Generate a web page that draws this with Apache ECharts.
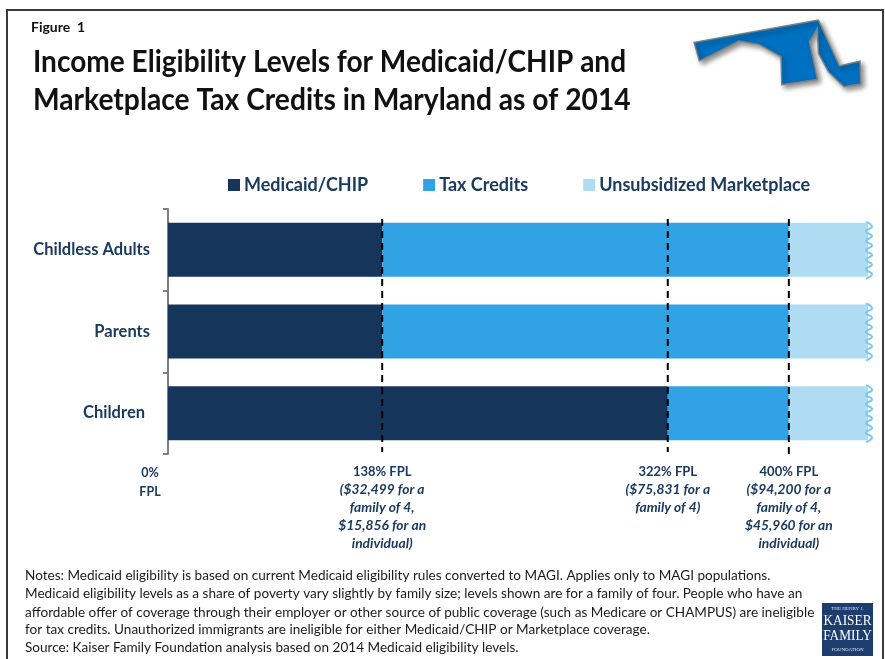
<!DOCTYPE html>
<html>
<head>
<meta charset="utf-8">
<title>Income Eligibility Levels in Maryland</title>
<style>
html, body { margin: 0; padding: 0; background: #fff; }
#chart { width: 885px; height: 659px; }
</style>
<script src="https://cdn.jsdelivr.net/npm/echarts@6/dist/echarts.min.js"></script>
</head>
<body>
<div id="chart"></div>
<script>
var groups = ['Childless Adults', 'Parents', 'Children'];
var medicaid = [138, 138, 322];
var taxCredits = [262, 262, 78];
var unsubsidized = [51, 51, 51];
var fplCuts = [138, 322, 400];
var tickValues = [0, 138, 322, 400];
var tickHeads = {0: '0%', 138: '138% FPL', 322: '322% FPL', 400: '400% FPL'};
var tickNotes = {
    0: ['FPL'],
    138: ['($32,499 for a', 'family of 4,', '$15,856 for an', 'individual)'],
    322: ['($75,831 for a', 'family of 4)'],
    400: ['($94,200 for a', 'family of 4,', '$45,960 for an', 'individual)']
};
var notes = [
    'Notes: Medicaid eligibility is based on current Medicaid eligibility rules converted to MAGI. Applies only to MAGI populations.',
    'Medicaid eligibility levels as a share of poverty vary slightly by family size; levels shown are for a family of four. People who have an',
    'affordable offer of coverage through their employer or other source of public coverage (such as Medicare or CHAMPUS) are ineligible',
    'for tax credits. Unauthorized immigrants are ineligible for either Medicaid/CHIP or Marketplace coverage.',
    'Source: Kaiser Family Foundation analysis based on 2014 Medicaid eligibility levels.'
];

var navy = '#1a3a60';
var font = 'Lato';

// state outline
var mapShape = [[42,97],[415,30],[478,168],[540,153],[542,222],[492,230],[445,185],[415,130],[412,55],[388,95],[412,208],[305,224],[303,140],[237,103],[177,93],[58,153]];

function textEl(x, y, text, fontStr, fill, scaleX, align) {
    return {
        type: 'text', x: x, y: y, scaleX: scaleX || 1, silent: true,
        style: {text: text, font: fontStr, fill: fill, textVerticalAlign: 'middle', textAlign: align || 'left'}
    };
}

var graphics = [
    {type: 'rect', silent: true, z: -1, shape: {x: 7, y: 10, width: 876, height: 670},
        style: {fill: '#fff', stroke: '#3a3a3a', lineWidth: 2}},
    textEl(31, 27, 'Figure  1', 'bold 14px ' + font, '#111', 1),
    textEl(33, 62, 'Income Eligibility Levels for Medicaid/CHIP and', 'bold 30px ' + font, '#111', 0.935),
    textEl(33, 100, 'Marketplace Tax Credits in Maryland as of 2014', 'bold 30px ' + font, '#111', 0.94),
    {type: 'polygon', silent: true, x: 680, y: 10, scaleX: 1 / 3, scaleY: 1 / 3,
        shape: {points: mapShape},
        style: {fill: '#0070c0', stroke: '#808080', lineWidth: 4, shadowBlur: 5, shadowOffsetX: 3, shadowOffsetY: 3, shadowColor: 'rgba(0,0,0,0.45)'}},
    {type: 'rect', silent: true, shape: {x: 822, y: 603, width: 51, height: 53}, style: {fill: '#1c3d6e'}},
    textEl(847.5, 609, 'THE HENRY J.', '5px "Liberation Serif"', '#dfe6f0', 1, 'center'),
    textEl(847.5, 621, 'KAISER', '14px "Liberation Serif"', '#fff', 0.95, 'center'),
    textEl(847.5, 636, 'FAMILY', '14px "Liberation Serif"', '#fff', 0.95, 'center'),
    textEl(847.5, 650, 'FOUNDATION', '5px "Liberation Serif"', '#dfe6f0', 1, 'center')
];

var noteY = [575, 593, 612, 629, 647];
notes.forEach(function (line, i) {
    graphics.push(textEl(25, noteY[i], line, '14px ' + font, '#1a1a1a', 0.969));
});

var chart = echarts.init(document.getElementById('chart'), null, {renderer: 'canvas'});

var option = {
    animation: false,
    backgroundColor: '#fff',
    graphic: graphics,
    legend: {
        left: 228,
        top: 176,
        padding: 0,
        itemWidth: 12,
        itemHeight: 12,
        itemGap: 55,
        icon: 'rect',
        selectedMode: false,
        data: ['Medicaid/CHIP', 'Tax Credits', 'Unsubsidized Marketplace'],
        textStyle: {color: navy, fontFamily: font, fontWeight: 'bold', fontSize: 18, padding: [0, 0, 0, -1]}
    },
    grid: {left: 168, top: 209, width: 700, height: 245},
    xAxis: {
        type: 'value',
        min: 0,
        max: 451,
        splitLine: {show: false},
        axisLine: {show: false},
        axisTick: {show: false},
        axisLabel: {
            show: true,
            customValues: tickValues,
            hideOverlap: false,
            margin: 9,
            formatter: function (v) {
                if (v === 0) {
                    return '{zero|' + tickHeads[0] + '}\n{zero|' + tickNotes[0][0] + '}';
                }
                var out = ['{head|' + tickHeads[v] + '}'];
                tickNotes[v].forEach(function (l) { out.push('{note|' + l + '}'); });
                return out.join('\n');
            },
            rich: {
                zero: {color: navy, fontFamily: font, fontWeight: 'bold', fontSize: 12.5, lineHeight: 19, padding: [0, 36, 0, 0]},
                head: {color: navy, fontFamily: font, fontWeight: 'bold', fontSize: 13, lineHeight: 18},
                note: {color: navy, fontFamily: font, fontWeight: 'bold', fontStyle: 'italic', fontSize: 13.8, lineHeight: 18}
            }
        }
    },
    yAxis: {
        type: 'category',
        inverse: true,
        data: groups,
        offset: 1,
        axisLine: {show: true, lineStyle: {color: '#808080', width: 2}},
        axisTick: {show: true, length: 5, lineStyle: {color: '#808080', width: 2}},
        axisLabel: {
            margin: 17,
            color: navy,
            fontFamily: font,
            fontWeight: 'bold',
            fontSize: 16.5,
            formatter: function (v) {
                return v === 'Children' ? '{c|' + v + '}' : v;
            },
            rich: {c: {color: navy, fontFamily: font, fontWeight: 'bold', fontSize: 16.5, padding: [0, 5, 0, 0]}}
        }
    },
    series: [
        {name: 'Medicaid/CHIP', type: 'bar', stack: 'fpl', barWidth: 54, data: medicaid, itemStyle: {color: '#15355a'}},
        {name: 'Tax Credits', type: 'bar', stack: 'fpl', barWidth: 54, data: taxCredits, itemStyle: {color: '#31a2e3'}},
        {name: 'Unsubsidized Marketplace', type: 'bar', stack: 'fpl', barWidth: 54, data: unsubsidized, itemStyle: {color: '#b0dcf3'}},
        {
            // torn right edge of the last segment
            type: 'custom',
            silent: true,
            z: 5,
            data: groups.map(function (g, i) { return [medicaid[i] + taxCredits[i] + unsubsidized[i], i]; }),
            renderItem: function (params, api) {
                var p = api.coord([api.value(0), api.value(1)]);
                var pts = [];
                for (var k = 0; k <= 12; k++) {
                    pts.push([p[0] + (k % 2 ? 4 : -2), p[1] - 28 + k * 4.75]);
                }
                return {type: 'polyline', shape: {points: pts, smooth: 0.5},
                    style: {fill: 'none', stroke: '#7cc8ef', lineWidth: 2}};
            }
        },
        {
            // dashed FPL cut-offs
            type: 'custom',
            silent: true,
            z: 6,
            data: fplCuts.map(function (v) { return [v, 0]; }),
            renderItem: function (params, api) {
                var x = api.coord([api.value(0), 0])[0];
                var rect = params.coordSys;
                var bottom = rect.y + rect.height + (api.value(0) === 400 ? 2 : -2);
                return {type: 'line', shape: {x1: x, y1: rect.y + 10, x2: x, y2: bottom},
                    style: {stroke: '#000', lineWidth: 2, lineDash: [7, 5]}};
            }
        }
    ]
};

chart.setOption(option);
</script>
</body>
</html>
